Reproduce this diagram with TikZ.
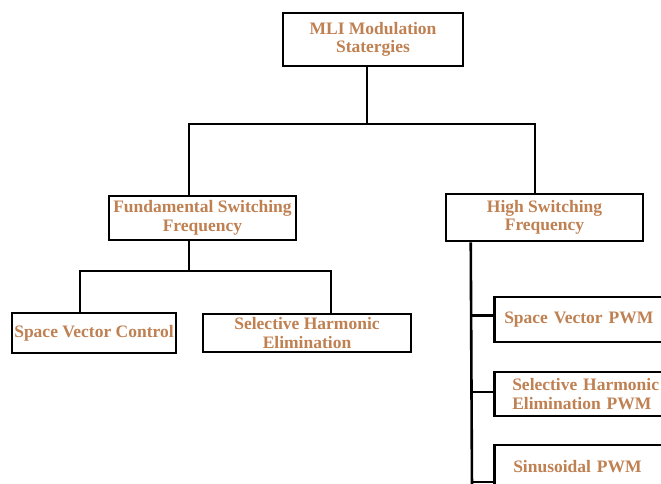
\documentclass[tikz,border=0pt]{standalone}
\usepackage{fontspec}
\setmainfont{Liberation Serif}
\usepackage{tikz}
\definecolor{mybrown}{RGB}{191,128,82}

\begin{document}
\begin{tikzpicture}[x=1pt, y=-1pt,
  box/.style={draw, line width=2.5pt, inner sep=0pt, align=center, text=mybrown,
    font=\bfseries\fontsize{17.5}{18.5}\selectfont},
  rbox/.style={box, anchor=west, align=left, text width=200pt, minimum height=45pt},
  wire/.style={line width=2.6pt}]
\useasboundingbox (0,0) rectangle (661,483);
\clip (0,0) rectangle (661,483);

%Root
\node (mli) at (373,39.5) [box, minimum width=180pt, minimum height=53pt] {MLI Modulation\\Statergies};

%Level 1
\node (fsf) at (202.5,218) [box, minimum width=187pt, minimum height=44pt] {Fundamental Switching\\Frequency};
\node (hsf) at (544.5,217.5) [box, minimum width=197pt, minimum height=47pt] {High Switching\\Frequency};

\coordinate (j0) at (367,124);
\coordinate (b1) at (189,124);
\coordinate (b2) at (535,124);
\draw [wire] (mli.south -| j0) -- (j0);
\draw [wire] (b1 |- fsf.north) -- (b1) -- (b2) -- (b2 |- hsf.north);

%Level 2, fundamental
\node (svc) at (94,333) [box, minimum width=164pt, minimum height=40pt] {Space Vector Control};
\node (she) at (307,333) [box, minimum width=208pt, minimum height=38pt] {Selective Harmonic\\Elimination};

\coordinate (j1) at (189,271);
\coordinate (c1) at (80,271);
\coordinate (c2) at (331,271);
\draw [wire] (fsf.south -| j1) -- (j1);
\draw [wire] (c1 |- svc.north) -- (c1) -- (c2) -- (c2 |- she.north);

%Level 2, high
\node (svpwm) at (493,319.5) [rbox, inner xsep=10pt] {Space Vector PWM};
\node (shepwm) at (493,394) [rbox, inner xsep=18pt, minimum height=44pt] {Selective Harmonic\\Elimination PWM};
\node (spwm) at (493,467) [rbox, inner xsep=19pt, minimum height=44pt] {Sinusoidal PWM};

\coordinate (s0) at ([xshift=26pt]hsf.south west);
\coordinate (s1) at (472,490);
\draw [wire] (s0) -- (s1);
\draw [wire] ([yshift=4pt]svpwm.west) -- ([yshift=4pt]svpwm.west -| s0);
\draw [wire] ([yshift=2pt]shepwm.west) -- ([yshift=2pt]shepwm.west -| s0);
\draw [wire] ([yshift=-15pt]spwm.west) -- ([yshift=-15pt]spwm.west -| s0);
\end{tikzpicture}
\end{document}
